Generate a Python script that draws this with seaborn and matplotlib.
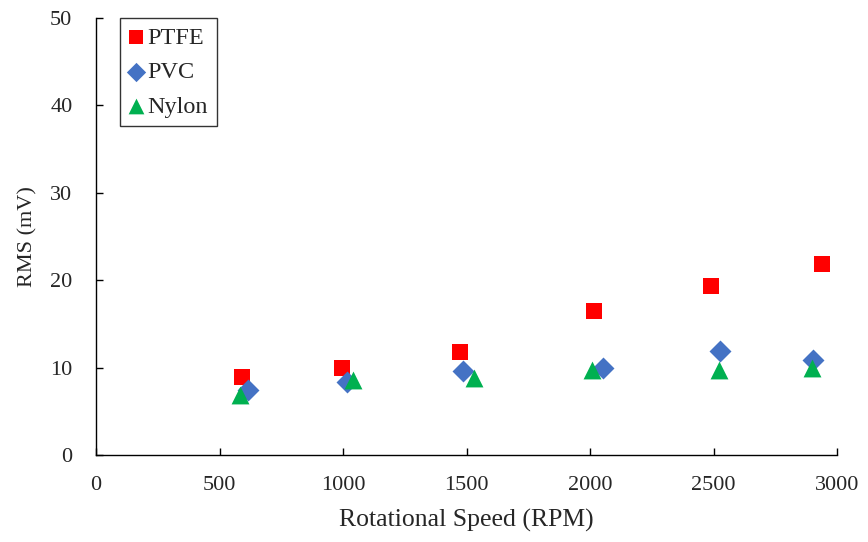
import matplotlib
matplotlib.use("Agg")
import matplotlib.pyplot as plt
import seaborn as sns
import pandas as pd

ptfe_x = [592, 996, 1474, 2016, 2490, 2939]
ptfe_y = [8.9, 10.0, 11.8, 16.5, 19.3, 21.8]
pvc_x = [615, 1015, 1487, 2054, 2526, 2904]
pvc_y = [7.4, 8.4, 9.6, 10.0, 11.9, 10.9]
nylon_x = [585, 1042, 1530, 2007, 2522, 2900]
nylon_y = [6.9, 8.6, 8.8, 9.7, 9.7, 9.9]

x_ticks = [0, 500, 1000, 1500, 2000, 2500, 3000]
y_ticks = [0, 10, 20, 30, 40, 50]

sns.set_style("white")
plt.rcParams['font.family'] = ['Liberation Serif', 'DejaVu Serif']

fig = plt.figure(figsize=(8.68, 5.42), dpi=100)
ax = fig.add_axes([0.1106, 0.1605, 0.8537, 0.8063])

series = [
    ("PTFE", ptfe_x, ptfe_y, "s", "#FF0000", 133),
    ("PVC", pvc_x, pvc_y, "D", "#4472C4", 125),
    ("Nylon", nylon_x, nylon_y, "^", "#00B050", 165),
]
for name, xs, ys, mk, col, s in series:
    df = pd.DataFrame({"x": xs, "y": ys})
    sns.scatterplot(data=df, x="x", y="y", marker=mk, color=col, s=s,
                    linewidth=0, label=name, ax=ax)

ax.set_xlim(0, 3000)
ax.set_ylim(0, 50)
ax.set_xticks(x_ticks)
ax.set_yticks(y_ticks)
ax.set_xlabel("Rotational Speed (RPM)", fontsize=18.5, labelpad=10)
ax.set_ylabel("RMS (mV)", fontsize=16, labelpad=9)
ax.tick_params(axis='both', direction='in', length=5, width=1, color='black',
               labelsize=16)
ax.tick_params(axis='x', pad=15)
ax.tick_params(axis='y', pad=17)
ax.tick_params(bottom=True, left=True)
for side in ['top', 'right']:
    ax.spines[side].set_visible(False)
for side in ['left', 'bottom']:
    ax.spines[side].set_color('black')
    ax.spines[side].set_linewidth(1)

leg = ax.legend(loc='upper left', bbox_to_anchor=(0.032, 1.0), borderaxespad=0,
                frameon=True, fancybox=False, edgecolor='black', fontsize=17.5,
                handletextpad=0.2, handlelength=0.6, labelspacing=0.52,
                borderpad=0.35, markerscale=0.88)
leg.get_frame().set_linewidth(1)

fig.savefig("out.png", dpi=100)
